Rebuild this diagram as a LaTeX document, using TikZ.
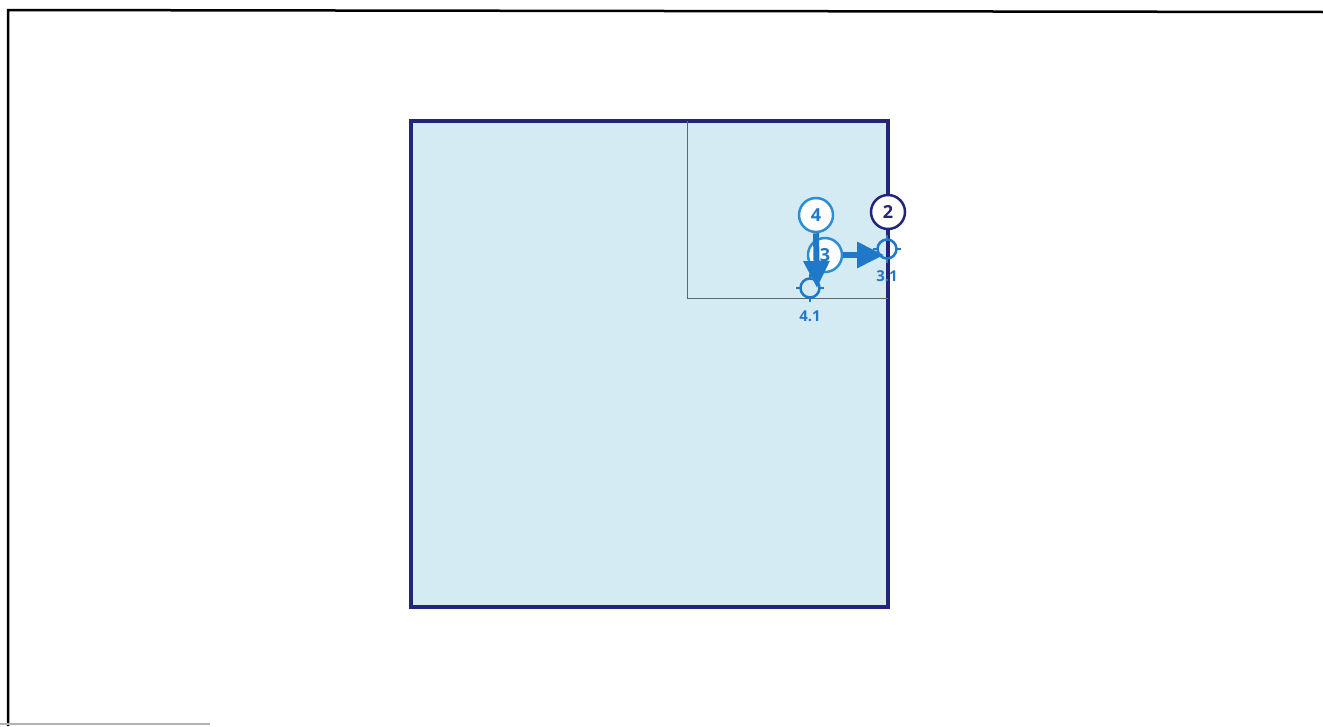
\documentclass[tikz,border=0pt]{standalone}
\usepackage{fontspec}
\setmainfont{Open Sans}
\usepackage{xcolor}
\usepackage{tikz}
\usetikzlibrary{arrows.meta,positioning,calc}
\definecolor{navy}{HTML}{23257A}
\definecolor{lblue}{HTML}{2C8FD3}
\definecolor{abl}{HTML}{1F78C8}
\definecolor{pane}{HTML}{D5EBF3}

\begin{document}
\begin{tikzpicture}[x=1pt, y=-1pt,
  num/.style={circle, draw=lblue, line width=2.5pt, fill=white, minimum size=34pt,
              inner sep=0pt, font=\fontsize{18}{18}\selectfont\bfseries, text=abl},
  tgt/.style={circle, draw=abl, line width=2.5pt, minimum size=19pt, inner sep=0pt},
  lab/.style={font=\fontsize{15}{15}\selectfont\bfseries, text=abl, inner sep=1pt},
  arr/.style={-{Triangle[length=27pt, width=25pt]}, line width=6pt, draw=abl}]
\useasboundingbox (0,0) rectangle (1323,726);
% page frame
\draw[line width=2.5pt] (8,726) -- (8,10) -- (1323,12);
\draw[gray!60, line width=1.5pt] (0,724) -- (210,724);
% panel
\draw[navy, line width=4pt, fill=pane] (411,121) rectangle (888,607);
\draw[gray!80!black, line width=0.8pt] (687,121) -- (687,298) -- (888,298);
% targets
\node[tgt] (t41) at (810,288) {};
\node[tgt] (t31) at (887,249) {};
\foreach \t in {t41,t31}
  \foreach \a in {0,90,180,270}
    \draw[abl, line width=2.5pt] ($(\t.center)+(\a:8)$) -- ($(\t.center)+(\a:14)$);
\node[lab, below=11pt of t41] (l41) {4.1};
\node[lab, below=10pt of t31] (l31) {3.1};
% step circles
\node[num] (c3) at (825,255) {3};
\node[num] (c4) at (816,215) {4};
\node[num, draw=navy, text=navy] (c2) at (888,212) {2};
% moves
\draw[arr] (c4.south) -- ([xshift=7pt]t41.center);
\draw[arr] (c3.east) -- ([xshift=-3pt]c3.east -| t31.center);
\end{tikzpicture}
\end{document}
